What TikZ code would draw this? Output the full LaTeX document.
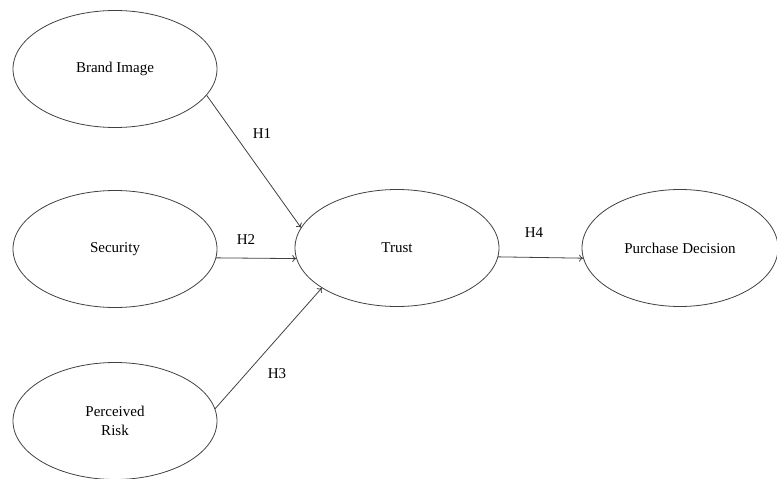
\documentclass[tikz,border=0pt]{standalone}
\usepackage{fontspec}
\setmainfont{Liberation Serif}
\usetikzlibrary{shapes.geometric,arrows.meta}
\definecolor{edge}{rgb}{0.25,0.25,0.25}

\begin{document}
\begin{tikzpicture}[x=1pt,y=-1pt,
		construct/.style={ellipse,draw=edge,line width=0.8pt,minimum width=204pt,minimum height=117pt,inner sep=0pt,align=center,font=\fontsize{15}{19}\selectfont},
		hpath/.style={draw=edge,line width=0.8pt,-{To[length=4pt,width=7pt]}},
		hyp/.style={inner sep=0pt,font=\fontsize{15}{18}\selectfont}]
	\useasboundingbox (0,0) rectangle (777,479);
	\coordinate (c1) at (115,69);
	\coordinate (c2) at (115,249);
	\coordinate (c3) at (115,421);
	\coordinate (c4) at (397,248);
	\coordinate (c5) at (680,248);
	
	\node (bi) at (c1) [construct] {Brand Image};
	\node (sec) at (c2) [construct] {Security};
	\node (pr) at (c3) [construct] {Perceived\\Risk};
	\node (tr) at (c4) [construct] {Trust};
	\node (pd) at (c5) [construct,minimum width=196pt] {Purchase Decision};
	
	\draw[hpath] (bi.-16) to[] (tr.168);
	\draw[hpath] (sec.-5.4) to[] (tr.-174.6);
	\draw[hpath] (pr.7) to[] (tr.-152.5);
	\draw[hpath] (tr.-5.2) to[] (pd.-174.5);
	
	\node (h1) at (262,134) [hyp] {H1};
	\node (h2) at (246,240) [hyp] {H2};
	\node (h3) at (277,374) [hyp] {H3};
	\node (h4) at (534,233) [hyp] {H4};
\end{tikzpicture}
\end{document}
